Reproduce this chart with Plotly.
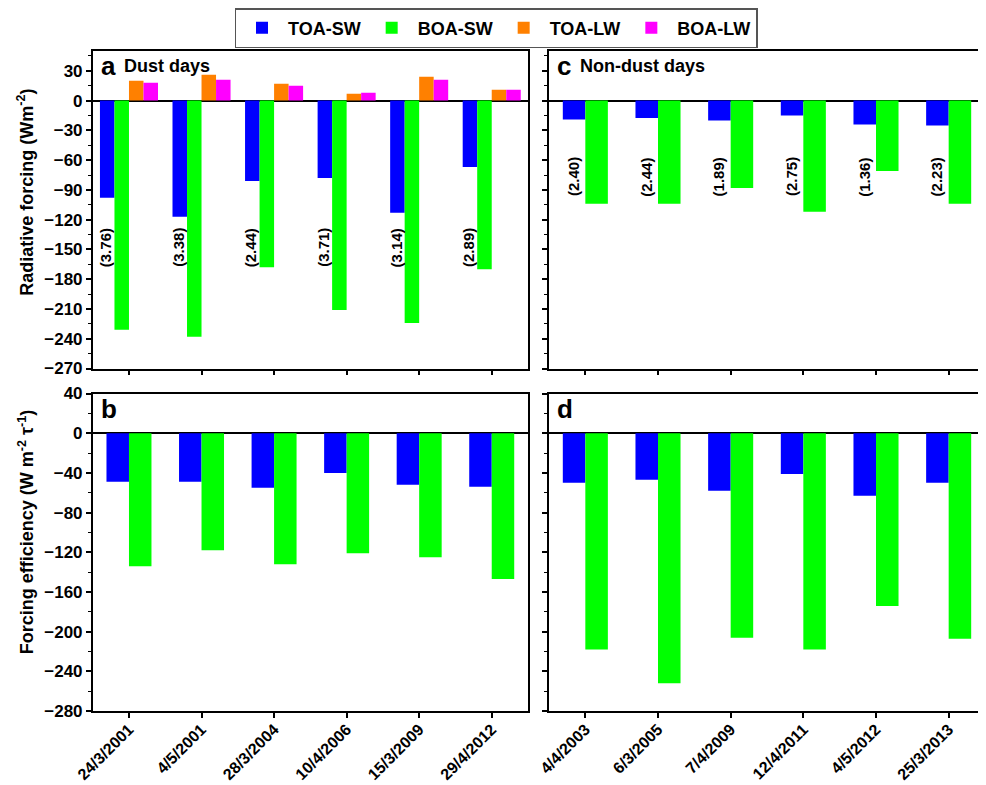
import plotly.graph_objects as go

# ---------------- data ----------------
dust_dates = ["24/3/2001", "4/5/2001", "28/3/2004", "10/4/2006", "15/3/2009", "29/4/2012"]
nondust_dates = ["4/4/2003", "6/3/2005", "7/4/2009", "12/4/2011", "4/5/2012", "25/3/2013"]

# Radiative forcing (W m-2)
dust_toa_sw = [-98, -117, -81, -78, -113, -67]
dust_boa_sw = [-231, -238, -168, -211, -224, -170]
dust_toa_lw = [20, 26, 17, 7, 24, 11]
dust_boa_lw = [18, 21, 15, 8, 21, 11]
dust_aod = ["3.76", "3.38", "2.44", "3.71", "3.14", "2.89"]

nondust_toa_sw = [-19, -17.5, -20, -15, -24, -25]
nondust_boa_sw = [-104, -104, -88, -112, -71, -104]
nondust_aod = ["2.40", "2.44", "1.89", "2.75", "1.36", "2.23"]

# Forcing efficiency (W m-2 tau-1)
dust_eff_toa = [-49, -49, -55, -40, -52, -54]
dust_eff_boa = [-134, -118, -132, -121, -125, -147]
nondust_eff_toa = [-50, -47, -58, -41, -63, -50]
nondust_eff_boa = [-218, -252, -206, -218, -174, -207]

series_names = ["TOA-SW", "BOA-SW", "TOA-LW", "BOA-LW"]
colors = ["#0000FF", "#00FF00", "#FF8000", "#FF00FF"]

# ---------------- layout geometry ----------------
# page body has an 8px margin, so the figure is sized to fill the rest of the window
OFF = 8
W, H = 986 - OFF, 785 - OFF
FONT = "Liberation Sans, Arial, Helvetica, sans-serif"


def px_x(p):
    return (p - OFF) / W


def px_y(p):
    return 1 - (p - OFF) / H


xa_dom = [px_x(92.7), px_x(528)]
xc_dom = [px_x(549), px_x(985)]
ytop_dom = [px_y(368), px_y(50)]
ybot_dom = [px_y(711), px_y(393)]

fig = go.Figure()


def add_bar(x, y, name, color, xa, ya, offset, width, show):
    fig.add_trace(go.Bar(
        x=x, y=y, name=name, marker=dict(color=color, line=dict(width=0)),
        xaxis=xa, yaxis=ya, offset=offset, width=width,
        showlegend=show, legendgroup=name,
    ))


# panel a: 4 bars
wa = 0.2
for k, (vals, nm, col) in enumerate(zip([dust_toa_sw, dust_boa_sw, dust_toa_lw, dust_boa_lw], series_names, colors)):
    add_bar(dust_dates, vals, nm, col, "x", "y", -0.4 + k * wa, wa, True)

# panels b, c, d: 2 bars
w2 = 0.31
for (xs, v1, v2, xa, ya) in [
    (nondust_dates, nondust_toa_sw, nondust_boa_sw, "x2", "y2"),
    (dust_dates, dust_eff_toa, dust_eff_boa, "x3", "y3"),
    (nondust_dates, nondust_eff_toa, nondust_eff_boa, "x4", "y4"),
]:
    add_bar(xs, v1, series_names[0], colors[0], xa, ya, -w2, w2, False)
    add_bar(xs, v2, series_names[1], colors[1], xa, ya, 0, w2, False)

xtickfont = dict(family=FONT, size=16, color="black", weight="bold")
ytickfont = dict(family=FONT, size=17, color="black", weight="bold")


def xaxis(dom, anchor, labels):
    return dict(
        domain=dom, anchor=anchor, type="category", range=[-0.5, 5.5],
        showline=True, linecolor="black", linewidth=1.5, mirror=True,
        ticks="outside", ticklen=5, tickwidth=1.5, tickcolor="black",
        showticklabels=labels, tickangle=-45, tickfont=xtickfont,
        ticklabelstandoff=-4,
        showgrid=False, zeroline=False, automargin=False,
    )


def yaxis(dom, anchor, rng, dtick, labels):
    return dict(
        domain=dom, anchor=anchor, range=rng, dtick=dtick, tick0=0,
        showline=True, linecolor="black", linewidth=1.5, mirror=True,
        ticks="outside", ticklen=5, tickwidth=1.5, tickcolor="black",
        minor=dict(ticks="outside", ticklen=3, tickwidth=1, tickcolor="black", dtick=dtick / 2, showgrid=False),
        showticklabels=labels, tickfont=ytickfont,
        showgrid=False, zeroline=True, zerolinecolor="black", zerolinewidth=1.5,
        automargin=False,
    )


fig.update_layout(
    width=W, height=H,
    margin=dict(l=0, r=0, t=0, b=0),
    paper_bgcolor="white", plot_bgcolor="white",
    barmode="overlay",
    font=dict(family=FONT, color="black"),
    xaxis=xaxis(xa_dom, "y", False),
    yaxis=yaxis(ytop_dom, "x", [-270, 50], 30, True),
    xaxis2=xaxis(xc_dom, "y2", False),
    yaxis2=yaxis(ytop_dom, "x2", [-270, 50], 30, False),
    xaxis3=xaxis(xa_dom, "y3", True),
    yaxis3=yaxis(ybot_dom, "x3", [-280, 40], 40, True),
    xaxis4=xaxis(xc_dom, "y4", True),
    yaxis4=yaxis(ybot_dom, "x4", [-280, 40], 40, False),
    legend=dict(
        orientation="h", x=px_x(496), xanchor="center", y=px_y(7), yanchor="top",
        bordercolor="#555555", borderwidth=1.5, bgcolor="white",
        font=dict(family=FONT, size=18, color="black", weight="bold"),
        itemwidth=42, traceorder="normal", tracegroupgap=0,
    ),
)

ann = []
lab_font = dict(family=FONT, size=15, color="black", weight="bold")
# AOD labels, rotated, under the TOA-SW bars
for i, t in enumerate(dust_aod):
    ann.append(dict(x=i - 0.32, y=-148, xref="x", yref="y", text="(" + t + ")", textangle=-90,
                    showarrow=False, font=lab_font))
for i, t in enumerate(nondust_aod):
    ann.append(dict(x=i - 0.155, y=-77, xref="x2", yref="y2", text="(" + t + ")", textangle=-90,
                    showarrow=False, font=lab_font))


# panel letters and titles
def panel_label(xr, yr, letter, title=None):
    ann.append(dict(x=0, y=1, xref=xr + " domain", yref=yr + " domain", text=letter,
                    xanchor="left", yanchor="top", xshift=6, yshift=2, showarrow=False,
                    font=dict(family=FONT, size=26, color="black", weight="bold")))
    if title:
        ann.append(dict(x=0, y=1, xref=xr + " domain", yref=yr + " domain", text=title,
                        xanchor="left", yanchor="top", xshift=29, yshift=-3, showarrow=False,
                        font=dict(family=FONT, size=18, color="black", weight="bold")))


panel_label("x", "y", "a", "Dust days")
panel_label("x2", "y2", "c", "Non-dust days")
panel_label("x3", "y3", "b")
panel_label("x4", "y4", "d")

# y axis titles
ann.append(dict(x=px_x(26), y=px_y(192), xref="paper", yref="paper", textangle=-90,
                xanchor="center", yanchor="middle",
                text="Radiative forcing (Wm<sup>-2</sup>)", showarrow=False,
                font=dict(family=FONT, size=18, color="black", weight="bold")))
ann.append(dict(x=px_x(26), y=px_y(532), xref="paper", yref="paper", textangle=-90,
                xanchor="center", yanchor="middle",
                text="Forcing efficiency (W m<sup>-2</sup> τ<sup>-1</sup>)", showarrow=False,
                font=dict(family=FONT, size=18, color="black", weight="bold")))

fig.update_layout(annotations=ann)

fig.write_html("out.html")
